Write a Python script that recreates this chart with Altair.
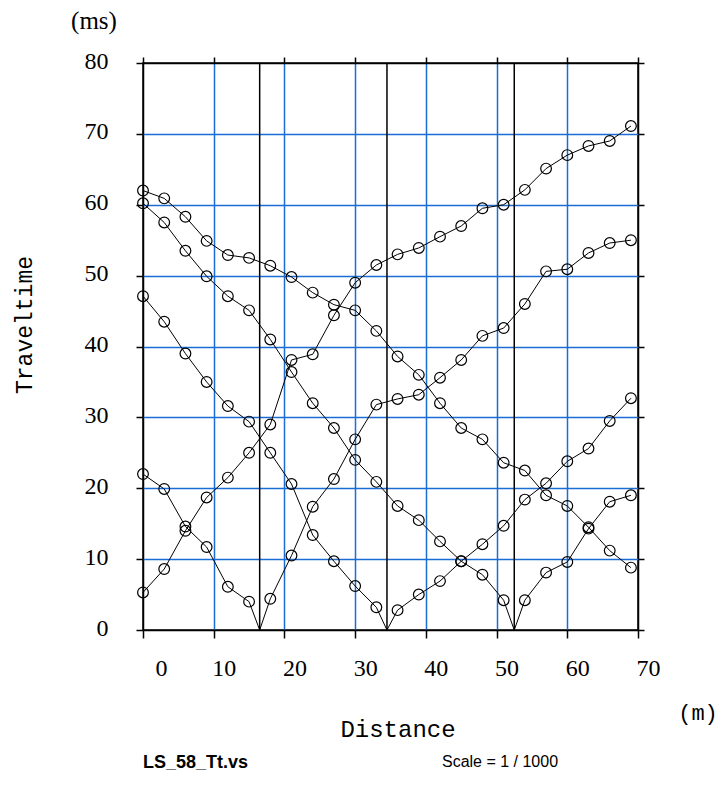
import altair as alt
import pandas as pd

# receiver positions (m)
receivers = [0, 3, 6, 9, 12, 15, 18, 21, 24, 27, 30, 33, 36, 39, 42, 45, 48, 51, 54, 57, 60, 63, 66, 69]

# travel times (ms) for each shot
shot_left = [5.3, 8.6, 14.0, 18.7, 21.5, 25.0, 29.0, 38.1, 38.9, 44.4, 49.0, 51.5,
             53.0, 53.9, 55.5, 57.0, 59.5, 60.0, 62.1, 65.1, 67.0, 68.3, 69.0, 71.1]
shot_16 = [22.0, 19.9, 14.6, 11.7, 6.1, 4.0, 4.4, 10.5, 17.4, 21.3, 26.9, 31.8,
           32.6, 33.2, 35.6, 38.1, 41.5, 42.6, 46.0, 50.6, 50.9, 53.2, 54.6, 55.0]
shot_34 = [47.1, 43.5, 39.0, 35.0, 31.6, 29.4, 25.0, 20.6, 13.4, 9.7, 6.2, 3.2,
           2.8, 5.0, 6.9, 9.7, 12.1, 14.7, 18.4, 20.7, 23.8, 25.6, 29.5, 32.7]
shot_52 = [60.2, 57.5, 53.5, 49.9, 47.1, 45.1, 41.0, 36.4, 32.0, 28.5, 24.0, 20.9,
           17.5, 15.5, 12.5, 9.7, 7.8, 4.2, 4.2, 8.1, 9.6, 14.3, 18.1, 19.0]
shot_right = [62.0, 60.9, 58.3, 54.9, 52.9, 52.5, 51.4, 49.8, 47.6, 45.9, 45.1, 42.2,
              38.6, 36.0, 32.0, 28.5, 26.9, 23.6, 22.5, 19.0, 17.5, 14.5, 11.2, 8.8]

shot_names = ["left", "s16", "s34", "s52", "right"]
shot_series = [shot_left, shot_16, shot_34, shot_52, shot_right]
inline_shot_names = ["s16", "s34", "s52"]
inline_shot_pos = [16.5, 34.5, 52.5]

x_ticks = [0, 10, 20, 30, 40, 50, 60, 70]
y_ticks = [0, 10, 20, 30, 40, 50, 60, 70, 80]

rows = []
for name, times in zip(shot_names, shot_series):
    for xv, tv in zip(receivers, times):
        rows.append({"x": xv, "t": tv, "shot": name, "rec": True})
for name, pos in zip(inline_shot_names, inline_shot_pos):
    rows.append({"x": pos, "t": 0.0, "shot": name, "rec": False})
df = pd.DataFrame(rows)
df_pts = df[df["rec"]]
shots_df = pd.DataFrame({"x": inline_shot_pos})

BLUE = "#1a6dd4"
W, H = 495, 567

xscale = alt.Scale(domain=[0, 70], nice=False, zero=False)
yscale = alt.Scale(domain=[0, 80], nice=False, zero=False)

x_bottom = alt.Axis(
    orient="bottom", values=x_ticks, title=None, domain=False,
    tickSize=8, tickColor="black", tickWidth=1.5,
    labelFont="Liberation Serif", labelFontSize=24, labelColor="black",
    labelAlign="center", labelBaseline="top", labelPadding=18,
    labelOffset={"condition": {"test": "datum.value == 0", "value": 18}, "value": 10},
    grid=True, gridWidth=1.5,
    gridColor={"condition": {"test": "datum.value == 0 || datum.value == 70", "value": "black"}, "value": BLUE},
)
y_left = alt.Axis(
    orient="left", values=y_ticks, title=None, domain=False,
    tickSize=7, tickColor="black", tickWidth=1.5,
    labelFont="Liberation Serif", labelFontSize=24, labelColor="black",
    labelAlign="right", labelBaseline="middle", labelPadding=28, labelOffset=-2,
    grid=True, gridWidth=1.5,
    gridColor={"condition": {"test": "datum.value == 0 || datum.value == 80", "value": "black"}, "value": BLUE},
)
x_top = alt.Axis(orient="top", values=x_ticks, title=None, domain=False, labels=False,
                 grid=False, tickSize=6, tickColor="black", tickWidth=1.5)
y_right = alt.Axis(orient="right", values=y_ticks, title=None, domain=False, labels=False,
                   grid=False, tickSize=6, tickColor="black", tickWidth=1.5)

lines = alt.Chart(df).mark_line(color="black", strokeWidth=1).encode(
    x=alt.X("x:Q", scale=xscale, axis=x_bottom),
    y=alt.Y("t:Q", scale=yscale, axis=y_left),
    detail="shot:N",
    order="x:Q",
)

points = alt.Chart(df_pts).mark_point(
    shape="circle", size=115, filled=False, color="black", strokeWidth=1.2, opacity=1
).encode(
    x=alt.X("x:Q", scale=xscale, axis=None),
    y=alt.Y("t:Q", scale=yscale, axis=y_right),
)

shot_rules = alt.Chart(shots_df).mark_rule(color="black", strokeWidth=1.5).encode(
    x=alt.X("x:Q", scale=xscale, axis=x_top),
)

dummy = pd.DataFrame({"a": [0]})


def label(text, x, y, **kw):
    return alt.Chart(dummy).mark_text(text=text, **kw).encode(x=alt.value(x), y=alt.value(y))


texts = [
    label("(ms)", -49, -42, font="Liberation Serif", fontSize=25, align="center", baseline="middle"),
    label("Traveltime", -118, 262, font="Liberation Mono", fontSize=23, angle=270,
          align="center", baseline="middle"),
    label("Distance", 255, 667, font="Liberation Mono", fontSize=24, align="center", baseline="middle"),
    label("(m)", 555, 650, font="Liberation Mono", fontSize=22, align="center", baseline="middle"),
    label("Scale = 1 / 1000", 357, 699, font="Liberation Sans", fontSize=16, align="center",
          baseline="middle"),
    label("LS_58_Tt.vs", 0, 705, font="Liberation Sans", fontSize=18, fontWeight="bold",
          align="left", baseline="alphabetic"),
]

chart = alt.layer(lines, shot_rules, points, *texts).resolve_axis(
    x="independent", y="independent"
).properties(
    width=W, height=H,
    autosize=alt.AutoSizeParams(type="none"),
    padding={"left": 135, "top": 55, "right": 81, "bottom": 142},
    background="white",
).configure_view(stroke="black", strokeWidth=1.5)

chart.save("out.html", embed_options={"renderer": "svg", "actions": False})
